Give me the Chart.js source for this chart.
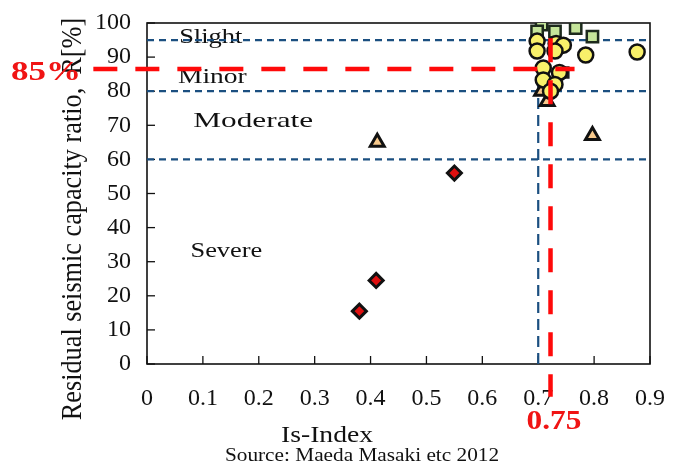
<!DOCTYPE html>
<html>
<head>
<meta charset="utf-8">
<script src="https://cdn.jsdelivr.net/npm/chart.js@4/dist/chart.umd.min.js"></script>
<style>
html,body{margin:0;padding:0;background:#fff;}
#wrap{width:673px;height:468px;position:relative;}
</style>
</head>
<body>
<div id="wrap"><canvas id="c"></canvas></div>
<script>
// ---- data ----
const diamondX = [0.38, 0.41, 0.55];
const diamondY = [15.5, 24.5, 56];

const triangleX = [0.412, 0.797, 0.706, 0.716];
const triangleY = [65, 67, 80, 77];

const squareX = [0.706, 0.698, 0.730, 0.767, 0.797];
const squareY = [99.5, 97.5, 97.5, 98.5, 96];

const tanSquareX = [0.745];
const tanSquareY = [85.5];

const circleX = [0.698, 0.732, 0.745, 0.698, 0.730, 0.785, 0.877, 0.709, 0.738, 0.709, 0.730, 0.722];
const circleY = [94.7, 94.0, 93.5, 91.8, 91.8, 90.6, 91.5, 86.8, 85.5, 83.3, 82.0, 80.0];

const xTicks = [0, 0.1, 0.2, 0.3, 0.4, 0.5, 0.6, 0.7, 0.8, 0.9];
const yTicks = [0, 10, 20, 30, 40, 50, 60, 70, 80, 90, 100];

const thresholdY = [95, 80, 60];          // Slight / Minor / Moderate boundaries
const thresholdX = 0.7;                   // Is-Index boundary
const redLevelY = 86.5;                   // "85%" marker line
const redLevelX = 0.722;                  // "0.75" marker line
const regionLabels = ["Slight", "Minor", "Moderate", "Severe"];

const pts = (xs, ys) => xs.map((x, i) => ({x: x, y: ys[i]}));

const SERIF = "'Liberation Serif','DejaVu Serif',serif";

const datasets = [];
// blue dashed thresholds
thresholdY.forEach(v => datasets.push({
  type: 'line', data: [{x: 0, y: v}, {x: 0.9, y: v}],
  borderColor: '#1b4f80', borderWidth: 2.2, borderDash: [7, 5],
  pointRadius: 0, fill: false, order: 10
}));
datasets.push({
  type: 'line', data: [{x: thresholdX, y: 0}, {x: thresholdX, y: 100}],
  borderColor: '#1b4f80', borderWidth: 2.2, borderDash: [11, 6],
  pointRadius: 0, fill: false, order: 10
});
// markers
datasets.push({label: 'sev', data: pts(diamondX, diamondY), pointStyle: 'rectRot', pointRadius: 7,
  backgroundColor: '#e01010', borderColor: '#111', borderWidth: 3, order: 5});
datasets.push({label: 'mod', data: pts(triangleX, triangleY), pointStyle: 'triangle', pointRadius: 8,
  backgroundColor: '#f7c98c', borderColor: '#111', borderWidth: 3, order: 5});
datasets.push({label: 'sq', data: pts(squareX, squareY), pointStyle: 'rect', pointRadius: 8,
  backgroundColor: '#c5e59a', borderColor: '#1d2a1d', borderWidth: 2.5, order: 6});
datasets.push({label: 'tsq', data: pts(tanSquareX, tanSquareY), pointStyle: 'rect', pointRadius: 7,
  backgroundColor: '#f5c98e', borderColor: '#1d1d1d', borderWidth: 2.5, order: 6});
datasets.push({label: 'cir', data: pts(circleX, circleY), pointStyle: 'circle', pointRadius: 7.5,
  backgroundColor: '#f8f06a', borderColor: '#111', borderWidth: 2.5, order: 4});
// red marker lines (drawn over markers, beyond chart area)
datasets.push({
  type: 'line', data: [{x: -0.096, y: redLevelY}, {x: 0.765, y: redLevelY}],
  borderColor: '#ff0a0a', borderWidth: 4.5, borderDash: [24, 18],
  pointRadius: 0, fill: false, clip: false, order: 1
});
datasets.push({
  type: 'line', data: [{x: redLevelX, y: 95.5}, {x: redLevelX, y: -9.6}],
  borderColor: '#ff0a0a', borderWidth: 4.5, borderDash: [24, 18],
  pointRadius: 0, fill: false, clip: false, order: 1
});

function stretchText(ctx, text, cx, cy, sx) {
  ctx.save();
  ctx.translate(cx, cy);
  ctx.scale(sx, 1);
  ctx.fillText(text, 0, 0);
  ctx.restore();
}

const decor = {
  id: 'decor',
  beforeDatasetsDraw(chart) {
    const {ctx, chartArea: a, scales: {x, y}} = chart;
    ctx.save();
    ctx.fillStyle = '#111';
    ctx.font = '22px ' + SERIF;
    ctx.textAlign = 'center';
    ctx.textBaseline = 'middle';
    stretchText(ctx, regionLabels[0], x.getPixelForValue(0.114), y.getPixelForValue(95.9), 1.2);
    stretchText(ctx, regionLabels[1], x.getPixelForValue(0.117), y.getPixelForValue(84.2), 1.25);
    stretchText(ctx, regionLabels[2], x.getPixelForValue(0.190), y.getPixelForValue(71.3), 1.42);
    stretchText(ctx, regionLabels[3], x.getPixelForValue(0.142), y.getPixelForValue(33.1), 1.2);
    // inward ticks
    ctx.strokeStyle = '#111';
    ctx.lineWidth = 1.3;
    yTicks.forEach(v => {
      const py = y.getPixelForValue(v);
      ctx.beginPath(); ctx.moveTo(a.left, py); ctx.lineTo(a.left + 8, py); ctx.stroke();
    });
    xTicks.forEach(v => {
      const px = x.getPixelForValue(v);
      ctx.beginPath(); ctx.moveTo(px, a.bottom); ctx.lineTo(px, a.bottom - 8); ctx.stroke();
    });
    // frame
    ctx.lineWidth = 1.6;
    ctx.strokeRect(a.left, a.top, a.right - a.left, a.bottom - a.top);
    ctx.restore();
  },
  afterDraw(chart) {
    const {ctx} = chart;
    ctx.save();
    ctx.fillStyle = '#111';
    ctx.textAlign = 'center';
    ctx.textBaseline = 'middle';
    // y title
    ctx.save();
    ctx.translate(73, 219);
    ctx.rotate(-Math.PI / 2);
    ctx.scale(1.05, 1.15);
    ctx.font = '25px ' + SERIF;
    ctx.fillText('Residual seismic capacity ratio,  R[%]', 0, 0);
    ctx.restore();
    ctx.font = '24px ' + SERIF;
    stretchText(ctx, 'Is-Index', 327, 436, 1.15);
    ctx.font = '19px ' + SERIF;
    stretchText(ctx, 'Source: Maeda Masaki etc 2012', 362, 456, 1.12);
    // red labels
    ctx.fillStyle = '#f01414';
    ctx.font = 'bold 28px ' + SERIF;
    stretchText(ctx, '85%', 46, 73, 1.25);
    stretchText(ctx, '0.75', 554, 422, 1.12);
    ctx.restore();
  }
};

new Chart(document.getElementById('c'), {
  type: 'scatter',
  data: {datasets: datasets},
  options: {
    responsive: true,
    maintainAspectRatio: false,
    animation: false,
    events: [],
    layout: {padding: {top: 23, right: 23, left: 0, bottom: 0}},
    plugins: {legend: {display: false}, tooltip: {enabled: false}},
    scales: {
      x: {
        type: 'linear', min: 0, max: 0.9,
        afterFit(s) { s.height = 104; s.paddingLeft = 0; s.paddingRight = 0; },
        afterBuildTicks(s) { s.ticks = xTicks.map(v => ({value: v})); },
        grid: {display: false, drawTicks: false},
        border: {display: false},
        ticks: {
          padding: 20, color: '#111', maxRotation: 0, autoSkip: false,
          font: {family: SERIF, size: 24},
          callback: v => v === 0 ? '0' : Number(v).toFixed(1)
        }
      },
      y: {
        type: 'linear', min: 0, max: 100,
        afterFit(s) { s.width = 147; s.paddingTop = 0; s.paddingBottom = 0; },
        afterBuildTicks(s) { s.ticks = yTicks.map(v => ({value: v})); },
        grid: {display: false, drawTicks: false},
        border: {display: false},
        ticks: {
          padding: 16, color: '#111', autoSkip: false,
          font: {family: SERIF, size: 24}
        }
      }
    }
  },
  plugins: [decor]
});
</script>
</body>
</html>
